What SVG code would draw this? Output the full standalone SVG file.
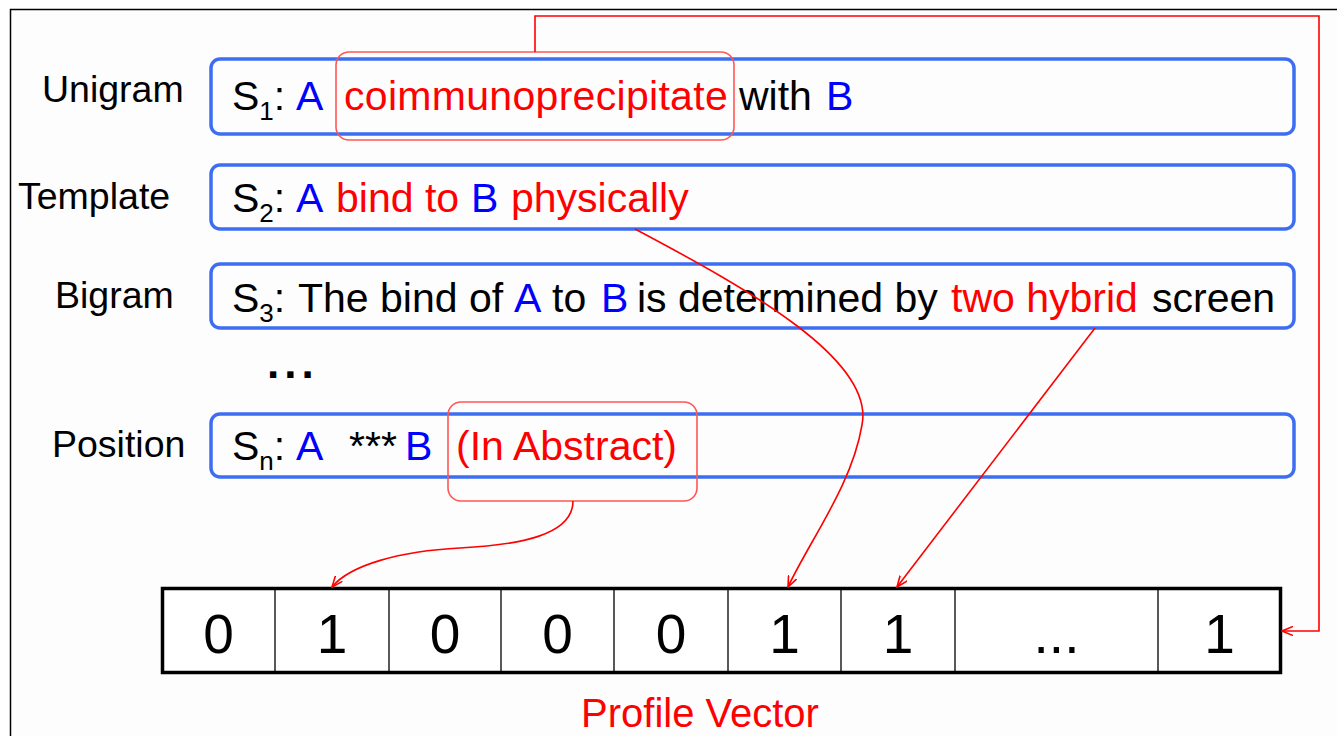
<svg xmlns="http://www.w3.org/2000/svg" width="1337" height="736" viewBox="0 0 1337 736">
  <defs>
    <marker id="arrow" viewBox="0 0 12 10" refX="11" refY="5" markerWidth="12" markerHeight="10" orient="auto" markerUnits="userSpaceOnUse">
      <path d="M0,0.5 L11,5 L0,9.5" fill="none" stroke="#ff0000" stroke-width="1.6"/>
    </marker>
    <style>
      text { font-family: "Liberation Sans", Arial, sans-serif; }
      .label { font-size: 37.5px; fill: #000; }
      .sent { font-size: 41px; fill: #000; }
      .sub { font-size: 26px; }
      .blue { fill: #0000ff; }
      .red { fill: #ff0000; }
      .row { fill: #fdfdfd; stroke: #3d6ef2; stroke-width: 3.5; }
      .hl { fill: none; stroke: #ff5656; stroke-width: 1.6; }
      .link { fill: none; stroke: #ff0000; stroke-width: 1.6; }
      .cell { fill: none; stroke: #000; stroke-width: 1.3; }
      .digit { font-size: 55px; fill: #000; text-anchor: middle; }
    </style>
  </defs>

  <rect x="0" y="0" width="1337" height="736" fill="#ffffff"/>
  <rect x="10" y="9" width="1327" height="727" fill="#fdfdfd"/>
  <!-- frame -->
  <path d="M10.5,736 V9.5 H1337" fill="none" stroke="#000" stroke-width="1.5"/>

  <!-- row labels -->
  <g id="labels">
    <text class="label" x="42" y="102">Unigram</text>
    <text class="label" x="18" y="209">Template</text>
    <text class="label" x="55" y="308">Bigram</text>
    <text class="label" x="52" y="457">Position</text>
  </g>

  <!-- sentence S1 -->
  <g id="s1">
    <rect class="row" x="211" y="59" width="1083" height="75" rx="9"/>
    <text class="sent" x="232" y="110">S<tspan class="sub" dy="10">1</tspan><tspan dy="-10">: </tspan><tspan class="blue" x="296">A</tspan><tspan class="red" x="344" letter-spacing="0.3">coimmunoprecipitate</tspan><tspan x="739">with</tspan><tspan class="blue" x="826">B</tspan></text>
    <rect class="hl" x="336" y="52" width="398" height="88" rx="13"/>
  </g>

  <!-- sentence S2 -->
  <g id="s2">
    <rect class="row" x="211" y="165" width="1083" height="64" rx="9"/>
    <text class="sent" x="232" y="212">S<tspan class="sub" dy="10">2</tspan><tspan dy="-10">: </tspan><tspan class="blue" x="296">A</tspan><tspan class="red" x="336">bind to</tspan><tspan class="blue" x="471">B</tspan><tspan class="red" x="511">physically</tspan></text>
  </g>

  <!-- sentence S3 -->
  <g id="s3">
    <rect class="row" x="211" y="264" width="1083" height="64" rx="9"/>
    <text class="sent" x="232" y="312">S<tspan class="sub" dy="10">3</tspan><tspan dy="-10">: </tspan><tspan x="298">The bind of</tspan><tspan class="blue" x="514">A</tspan><tspan x="552">to</tspan><tspan class="blue" x="601">B</tspan><tspan x="637">is determined by</tspan><tspan class="red" x="951">two hybrid</tspan><tspan x="1152">screen</tspan></text>
  </g>

  <!-- ellipsis between rows -->
  <text id="more" x="267" y="378" font-size="44" font-weight="bold" letter-spacing="5" fill="#000">...</text>

  <!-- sentence Sn -->
  <g id="sn">
    <rect class="row" x="211" y="414" width="1083" height="63" rx="9"/>
    <text class="sent" x="232" y="460">S<tspan class="sub" dy="10">n</tspan><tspan dy="-10">: </tspan><tspan class="blue" x="296">A</tspan><tspan x="349">***</tspan><tspan class="blue" x="405">B</tspan><tspan class="red" x="456">(In Abstract)</tspan></text>
    <rect class="hl" x="448" y="402" width="249" height="99" rx="13"/>
  </g>

  <!-- profile vector -->
  <g id="vector">
    <rect x="162.5" y="588.5" width="1118" height="84" fill="#fff" stroke="#000" stroke-width="3.5"/>
    <path class="cell" d="M275,589 V672 M389,589 V672 M501,589 V672 M614,589 V672 M728,589 V672 M841,589 V672 M955,589 V672 M1158,589 V672"/>
    <text class="digit" x="218.5" y="653">0</text>
    <text class="digit" x="332" y="653">1</text>
    <text class="digit" x="445" y="653">0</text>
    <text class="digit" x="557.5" y="653">0</text>
    <text class="digit" x="671" y="653">0</text>
    <text class="digit" x="784.5" y="653">1</text>
    <text class="digit" x="898" y="653">1</text>
    <text class="digit" x="1056.5" y="653">...</text>
    <text class="digit" x="1219.5" y="653">1</text>
  </g>
  <text id="caption" x="700" y="727" font-size="40" fill="#ff0000" text-anchor="middle">Profile Vector</text>

  <!-- connectors -->
  <g id="connectors">
    <path class="link" d="M535,52 V16 H1319 V631 H1282" marker-end="url(#arrow)"/>
    <path class="link" d="M635,229 C750,290 875,360 862,425 C852,485 810,540 788,587" marker-end="url(#arrow)"/>
    <path class="link" d="M1095,328 L897,587" marker-end="url(#arrow)"/>
    <path class="link" d="M573,501 C573,535 520,545 460,548 C400,551 350,565 332,587" marker-end="url(#arrow)"/>
  </g>
</svg>
